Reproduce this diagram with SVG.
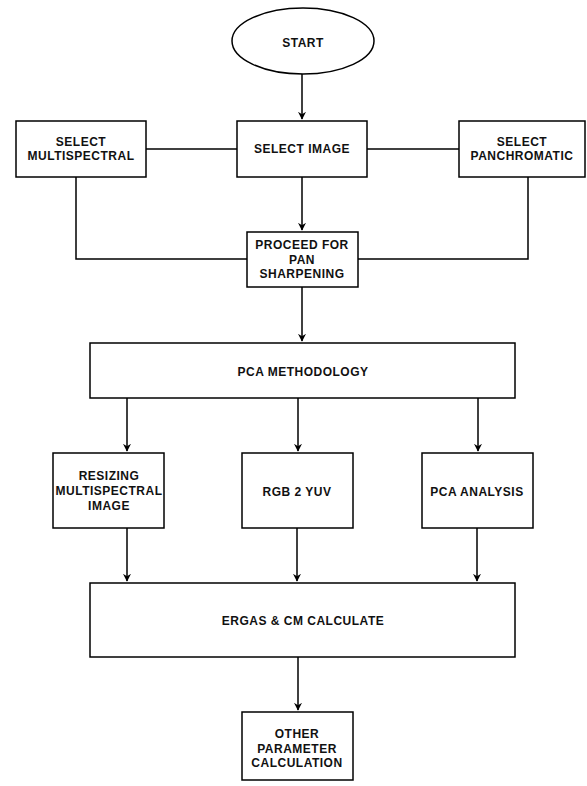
<svg xmlns="http://www.w3.org/2000/svg" width="587" height="786" viewBox="0 0 587 786">
<defs>
<marker id="arr" viewBox="0 0 10 10" refX="9" refY="5" markerWidth="8" markerHeight="8" markerUnits="userSpaceOnUse" orient="auto">
<path d="M0,0 L10,5 L0,10 L3,5 Z" fill="#000"/>
</marker>
</defs>
<style>
.n{fill:#fff;stroke:#000;stroke-width:1.5}
.t{font-family:"Liberation Sans",Arial,sans-serif;font-size:12px;font-weight:bold;fill:#111;text-anchor:middle;letter-spacing:0.5px}
.c{fill:none;stroke:#000;stroke-width:1.5}
</style>
<rect width="587" height="786" fill="#fff"/>
<g id="connectors">
<path class="c" d="M302,74 L302,119" marker-end="url(#arr)"/>
<path class="c" d="M146,149 L237,149"/>
<path class="c" d="M367,149 L459,149"/>
<path class="c" d="M302,177 L302,230" marker-end="url(#arr)"/>
<path class="c" d="M76,177 L76,259 L247,259"/>
<path class="c" d="M528,177 L528,259 L358,259"/>
<path class="c" d="M302,287 L302,341" marker-end="url(#arr)"/>
<path class="c" d="M127,398 L127,451" marker-end="url(#arr)"/>
<path class="c" d="M298,398 L298,451" marker-end="url(#arr)"/>
<path class="c" d="M478,398 L478,451" marker-end="url(#arr)"/>
<path class="c" d="M127,528 L127,581" marker-end="url(#arr)"/>
<path class="c" d="M297,528 L297,581" marker-end="url(#arr)"/>
<path class="c" d="M477,528 L477,581" marker-end="url(#arr)"/>
<path class="c" d="M298,657 L298,710" marker-end="url(#arr)"/>
</g>
<g id="start">
<ellipse class="n" cx="303" cy="41" rx="71" ry="33"/>
<text class="t" x="303" y="47">START</text>
</g>
<g id="select-multispectral">
<rect class="n" x="16" y="121" width="130" height="56"/>
<text class="t" x="81" y="146">SELECT</text>
<text class="t" x="81" y="160">MULTISPECTRAL</text>
</g>
<g id="select-image">
<rect class="n" x="237" y="121" width="130" height="56"/>
<text class="t" x="302" y="153">SELECT IMAGE</text>
</g>
<g id="select-panchromatic">
<rect class="n" x="459" y="121" width="126" height="56"/>
<text class="t" x="522" y="146">SELECT</text>
<text class="t" x="522" y="160">PANCHROMATIC</text>
</g>
<g id="proceed">
<rect class="n" x="247" y="232" width="111" height="55"/>
<text class="t" x="302" y="249">PROCEED FOR</text>
<text class="t" x="302" y="264">PAN</text>
<text class="t" x="302" y="278">SHARPENING</text>
</g>
<g id="pca-methodology">
<rect class="n" x="90" y="343" width="425" height="55"/>
<text class="t" x="303" y="376">PCA METHODOLOGY</text>
</g>
<g id="resizing">
<rect class="n" x="53" y="453" width="111" height="75"/>
<text class="t" x="109" y="480">RESIZING</text>
<text class="t" x="109" y="495">MULTISPECTRAL</text>
<text class="t" x="109" y="510">IMAGE</text>
</g>
<g id="rgb2yuv">
<rect class="n" x="242" y="453" width="111" height="75"/>
<text class="t" x="297" y="496">RGB 2 YUV</text>
</g>
<g id="pca-analysis">
<rect class="n" x="422" y="453" width="111" height="75"/>
<text class="t" x="477" y="496">PCA ANALYSIS</text>
</g>
<g id="ergas">
<rect class="n" x="90" y="583" width="425" height="74"/>
<text class="t" x="303" y="625">ERGAS &amp; CM CALCULATE</text>
</g>
<g id="other">
<rect class="n" x="242" y="712" width="111" height="68"/>
<text class="t" x="297" y="738">OTHER</text>
<text class="t" x="297" y="753">PARAMETER</text>
<text class="t" x="297" y="767">CALCULATION</text>
</g>
</svg>
